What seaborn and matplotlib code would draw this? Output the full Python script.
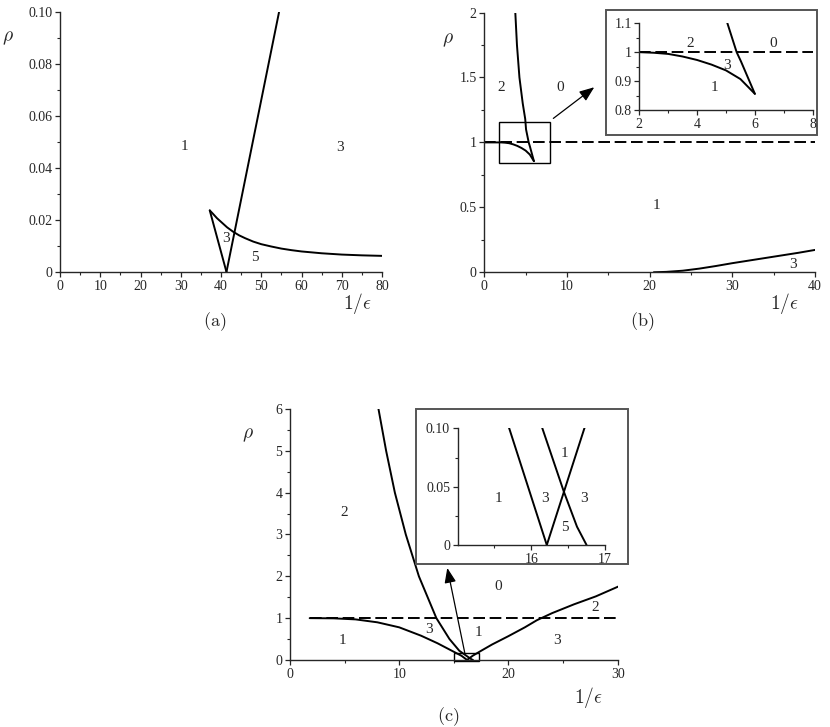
import numpy as np
import pandas as pd
import matplotlib
matplotlib.use("Agg")
import matplotlib.pyplot as plt
from matplotlib.patches import Rectangle
from matplotlib.ticker import FixedLocator, FixedFormatter
import seaborn as sns

# Panel (a) curves
a_left_x = [37.2, 41.35]
a_left_y = [0.0237, 0.0]
a_right_x = [41.35, 54.4]
a_right_y = [0.0, 0.10]
a_curve_x = [37.2, 38, 39, 40, 41.5, 43, 44.5, 46, 48, 50, 52.5, 55, 57.5, 60, 65, 70, 75, 80]
a_curve_y = [0.0237, 0.0224, 0.0207, 0.0193, 0.0172, 0.0155, 0.0141, 0.0130, 0.0117, 0.0107,
             0.0098, 0.0090, 0.0084, 0.0079, 0.0072, 0.0067, 0.0064, 0.0062]
a_xticks = [0, 10, 20, 30, 40, 50, 60, 70, 80]
a_yticks = [0, 0.02, 0.04, 0.06, 0.08, 0.10]
a_yticklabels = ['0', '0.02', '0.04', '0.06', '0.08', '0.10']
a_labels = [("1", 31, 0.0483), ("3", 69.6, 0.048), ("3", 41.2, 0.0127), ("5", 48.4, 0.0054)]

# Panel (b) curves
b_steep_x = [3.75, 3.95, 4.25, 4.65, 4.95, 5.05, 5.37, 5.52, 6.0]
b_steep_y = [2.0, 1.75, 1.5, 1.3, 1.18, 1.10, 1.0, 0.968, 0.856]
b_arc_x = [0, 1, 2, 2.5, 3, 3.5, 4, 4.5, 5, 5.5, 6.0]
b_arc_y = [1.0, 1.0, 1.0, 0.998, 0.994, 0.985, 0.973, 0.957, 0.937, 0.907, 0.856]
b_low_x = [20.5, 22, 24, 26, 28, 30, 32, 34, 36, 38, 40]
b_low_y = [0.0, 0.003, 0.012, 0.028, 0.048, 0.07, 0.09, 0.11, 0.13, 0.15, 0.172]
b_xticks = [0, 10, 20, 30, 40]
b_yticks = [0, 0.5, 1, 1.5, 2]
b_yticklabels = ['0', '0.5', '1', '1.5', '2']
b_labels = [("2", 2.0, 1.42), ("0", 9.15, 1.42), ("1", 20.8, 0.513), ("3", 37.4, 0.056)]
bi_xticks = [2, 4, 6, 8]
bi_yticks = [0.8, 0.9, 1.0, 1.1]
bi_yticklabels = ['0.8', '0.9', '1', '1.1']
b_inset_labels = [("2", 3.75, 1.031), ("0", 6.64, 1.031), ("3", 5.02, 0.954), ("1", 4.62, 0.879)]

# Panel (c) curves
c_steep_x = [8.1, 8.8, 9.6, 10.6, 11.8, 13.4, 14.6, 15.5, 16.15, 16.44, 16.62, 16.75]
c_steep_y = [6.0, 5.0, 4.0, 3.0, 2.0, 1.0, 0.5, 0.22, 0.1, 0.046, 0.0157, 0.0]
c_low_x = [1.8, 4, 6, 8, 10, 12, 13.5, 14.6, 15.7, 16.21]
c_low_y = [1.0, 0.995, 0.97, 0.9, 0.78, 0.58, 0.4, 0.25, 0.1, 0.0]
c_rise_x = [16.21, 16.72, 17.5, 18.5, 20, 21.5, 22.6, 24, 26, 28, 30.1]
c_rise_y = [0.0, 0.1, 0.22, 0.37, 0.57, 0.78, 0.95, 1.12, 1.33, 1.52, 1.76]
c_xticks = [0, 10, 20, 30]
c_yticks = [0, 1, 2, 3, 4, 5, 6]
c_labels = [("2", 4.97, 3.53), ("1", 4.82, 0.46), ("3", 12.75, 0.72), ("1", 17.24, 0.65),
            ("0", 19.07, 1.75), ("2", 27.98, 1.26), ("3", 24.4, 0.46)]
ci_xticks = [16, 17]
ci_yticks = [0, 0.05, 0.10]
ci_yticklabels = ['0', '0.05', '0.10']
c_inset_labels = [("1", 15.55, 0.04), ("3", 16.19, 0.04), ("1", 16.45, 0.0786),
                  ("3", 16.72, 0.04), ("5", 16.45, 0.0149)]

sns.set_style("ticks")
plt.rcParams['font.family'] = ['Liberation Serif', 'DejaVu Serif']
plt.rcParams['mathtext.fontset'] = 'cm'
plt.rcParams['axes.linewidth'] = 1.0

LW = 1.4
DASH = (6, 2.4)


def curve(ax, x, y):
    df = pd.DataFrame({'x': x, 'y': y})
    sns.lineplot(data=df, x='x', y='y', ax=ax, color='black', lw=LW,
                 estimator=None, sort=False)


def style(ax, xt, yt, ytl, xminor, yminor, xtl=None, size=10):
    sns.despine(ax=ax)
    ax.set_xlabel('')
    ax.set_ylabel('')
    ax.xaxis.set_major_locator(FixedLocator(xt))
    ax.xaxis.set_major_formatter(FixedFormatter(xtl if xtl else [str(v) for v in xt]))
    ax.yaxis.set_major_locator(FixedLocator(yt))
    ax.yaxis.set_major_formatter(FixedFormatter(ytl if ytl else [str(v) for v in yt]))
    ax.xaxis.set_minor_locator(FixedLocator(xminor))
    ax.yaxis.set_minor_locator(FixedLocator(yminor))
    ax.tick_params(which='major', direction='out', length=3.5, width=0.9, labelsize=size, pad=2)
    ax.tick_params(which='minor', direction='out', length=2, width=0.8)
    ax.patch.set_alpha(0)


def labels(ax, items, size=11):
    for t, x, y in items:
        ax.text(x, y, t, ha='center', va='center', fontsize=size)


fig = plt.figure(figsize=(8.3, 7.27), dpi=100)

# ---- (a)
ax_a = fig.add_axes([0.0723, 0.6259, 0.388, 0.3572])
curve(ax_a, a_left_x, a_left_y)
curve(ax_a, a_right_x, a_right_y)
curve(ax_a, a_curve_x, a_curve_y)
ax_a.set_xlim(0, 80)
ax_a.set_ylim(0, 0.10)
style(ax_a, a_xticks, a_yticks, a_yticklabels,
      [5, 15, 25, 35, 45, 55, 65, 75], [0.01, 0.03, 0.05, 0.07, 0.09])
labels(ax_a, a_labels)

# ---- (b)
ax_b = fig.add_axes([0.5835, 0.6255, 0.3984, 0.3572])
ax_b.plot([0, 40], [1, 1], color='black', lw=LW, dashes=DASH)
curve(ax_b, b_steep_x, b_steep_y)
curve(ax_b, b_arc_x, b_arc_y)
curve(ax_b, b_low_x, b_low_y)
ax_b.set_xlim(0, 40)
ax_b.set_ylim(0, 2)
style(ax_b, b_xticks, b_yticks, b_yticklabels, [5, 15, 25, 35], [0.25, 0.75, 1.25, 1.75])
labels(ax_b, b_labels)
ax_b.add_patch(Rectangle((1.8, 0.845), 6.2, 0.315, fill=False, lw=1, ec='black'))
ax_b.annotate('', xy=(13.3, 1.425), xytext=(8.35, 1.185),
              arrowprops=dict(arrowstyle='-|>,head_length=0.9,head_width=0.35',
                              color='black', lw=0.9, shrinkA=0, shrinkB=0))

fig.add_artist(Rectangle((0.7301, 0.8143), 0.2542, 0.1719, transform=fig.transFigure,
                         fill=True, fc='white', ec='#555555', lw=1.4, zorder=2))
ax_bi = fig.add_axes([0.7702, 0.8487, 0.2089, 0.1193], zorder=5)
ax_bi.plot([2, 8], [1, 1], color='black', lw=LW, dashes=DASH)
curve(ax_bi, b_steep_x, b_steep_y)
curve(ax_bi, b_arc_x, b_arc_y)
ax_bi.set_xlim(2, 8)
ax_bi.set_ylim(0.8, 1.1)
style(ax_bi, bi_xticks, bi_yticks, bi_yticklabels, [3, 5, 7], [0.85, 0.95, 1.05])
labels(ax_bi, b_inset_labels)

# ---- (c)
ax_c = fig.add_axes([0.3494, 0.0922, 0.3948, 0.3453])
ax_c.plot([1.8, 30], [1, 1], color='black', lw=LW, dashes=DASH)
curve(ax_c, c_steep_x, c_steep_y)
curve(ax_c, c_low_x, c_low_y)
curve(ax_c, c_rise_x, c_rise_y)
ax_c.set_xlim(0, 30)
ax_c.set_ylim(0, 6)
style(ax_c, c_xticks, c_yticks, None, [5, 15, 25], [0.5, 1.5, 2.5, 3.5, 4.5, 5.5])
labels(ax_c, c_labels)
ax_c.add_patch(Rectangle((15.0, -0.015), 2.3, 0.175, fill=False, lw=1, ec='black', clip_on=False))
ax_c.annotate('', xy=(14.4, 2.2), xytext=(16.0, 0.17),
              arrowprops=dict(arrowstyle='-|>,head_length=0.9,head_width=0.35',
                              color='black', lw=0.9, shrinkA=0, shrinkB=0))

fig.add_artist(Rectangle((0.5008, 0.2242), 0.2562, 0.2132, transform=fig.transFigure,
                         fill=True, fc='white', ec='#555555', lw=1.4, zorder=2))
ax_ci = fig.add_axes([0.5514, 0.2503, 0.1775, 0.1605], zorder=5)
curve(ax_ci, c_steep_x, c_steep_y)
curve(ax_ci, c_low_x, c_low_y)
curve(ax_ci, c_rise_x, c_rise_y)
ax_ci.set_xlim(15, 17)
ax_ci.set_ylim(0, 0.10)
style(ax_ci, ci_xticks, ci_yticks, ci_yticklabels, [15.5, 16.5], [0.025, 0.075])
labels(ax_ci, c_inset_labels)

# axis names and captions
for x, y in [(0.431, 0.583), (0.945, 0.583), (0.709, 0.040)]:
    fig.text(x, y, r'$1/\epsilon$', ha='center', va='center', fontsize=14)
for x, y in [(0.010, 0.948), (0.540, 0.945), (0.299, 0.402)]:
    fig.text(x, y, r'$\rho$', ha='center', va='center', fontsize=14)
for x, y, t in [(0.259, 0.557, '(a)'), (0.7735, 0.557, '(b)'), (0.540, 0.014, '(c)')]:
    fig.text(x, y, r'$\mathrm{' + t + '}$', ha='center', va='center', fontsize=13)

fig.savefig('out.png', dpi=100)
